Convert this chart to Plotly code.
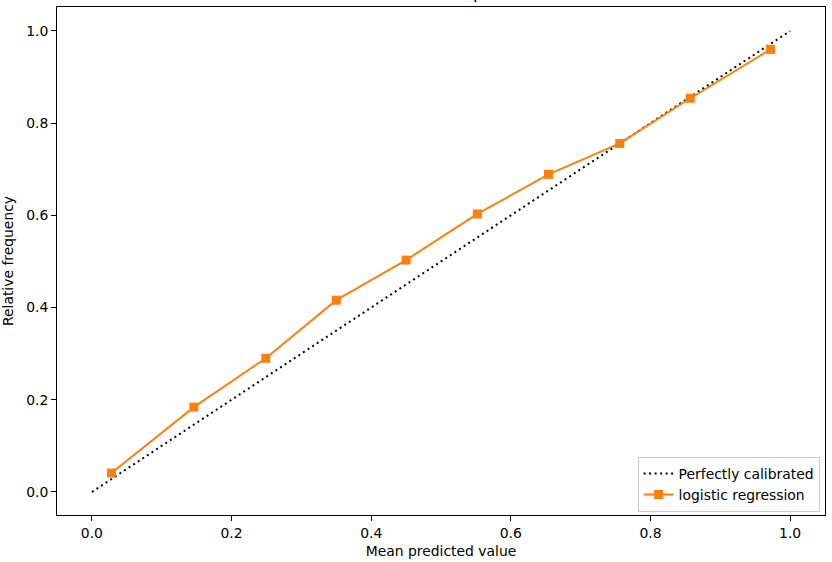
import plotly.graph_objects as go

# Data
mean_predicted = [0.028, 0.146, 0.249, 0.350, 0.450, 0.552, 0.654, 0.756, 0.857, 0.972]
fraction_positives = [0.041, 0.184, 0.290, 0.416, 0.503, 0.603, 0.689, 0.756, 0.854, 0.960]
diag_x = [0, 1]
diag_y = [0, 1]
tick_vals = [0.0, 0.2, 0.4, 0.6, 0.8, 1.0]
tick_text = ["0.0", "0.2", "0.4", "0.6", "0.8", "1.0"]

FONT = "DejaVu Sans"
FS = 13.9

fig = go.Figure()
fig.add_trace(go.Scatter(
    x=diag_x, y=diag_y, mode="lines", name="Perfectly calibrated",
    line=dict(color="black", width=2, dash="2px,3.5px"),
))
fig.add_trace(go.Scatter(
    x=mean_predicted, y=fraction_positives, mode="lines+markers",
    name="logistic regression",
    line=dict(color="#ff7f0e", width=2),
    marker=dict(symbol="square", size=9, color="#ff7f0e"),
))

axis_common = dict(
    tickvals=tick_vals, ticktext=tick_text,
    ticks="outside", ticklen=5, tickwidth=1, tickcolor="black",
    showline=True, linecolor="black", linewidth=1, mirror=True,
    showgrid=False, zeroline=False,
    tickfont=dict(family=FONT, size=FS, color="black"),
)

fig.update_layout(
    width=832, height=562,
    margin=dict(l=55, r=6, t=7, b=47),
    paper_bgcolor="white", plot_bgcolor="white",
    font=dict(family=FONT, size=FS, color="black"),
    showlegend=True,
    legend=dict(
        x=0.993, y=0.006, xanchor="right", yanchor="bottom",
        bgcolor="rgba(255,255,255,0.8)", bordercolor="#cccccc", borderwidth=1,
        font=dict(family=FONT, size=FS, color="black"),
        itemwidth=30, tracegroupgap=0,
    ),
    xaxis=dict(range=[-0.05, 1.05], title=dict(text="Mean predicted value",
               font=dict(family=FONT, size=FS), standoff=6), **axis_common),
    yaxis=dict(range=[-0.05, 1.052], title=dict(text="Relative frequency",
               font=dict(family=FONT, size=FS), standoff=10), **axis_common),
    annotations=[dict(
        text="Calibration plot", xref="paper", yref="paper", x=0.5, y=1,
        xanchor="center", yanchor="bottom", yshift=2, showarrow=False,
        font=dict(family=FONT, size=16.7, color="black"),
    )],
)

fig.write_html("out.html", config={"displayModeBar": False},
               post_script="document.body.style.margin='0';")
